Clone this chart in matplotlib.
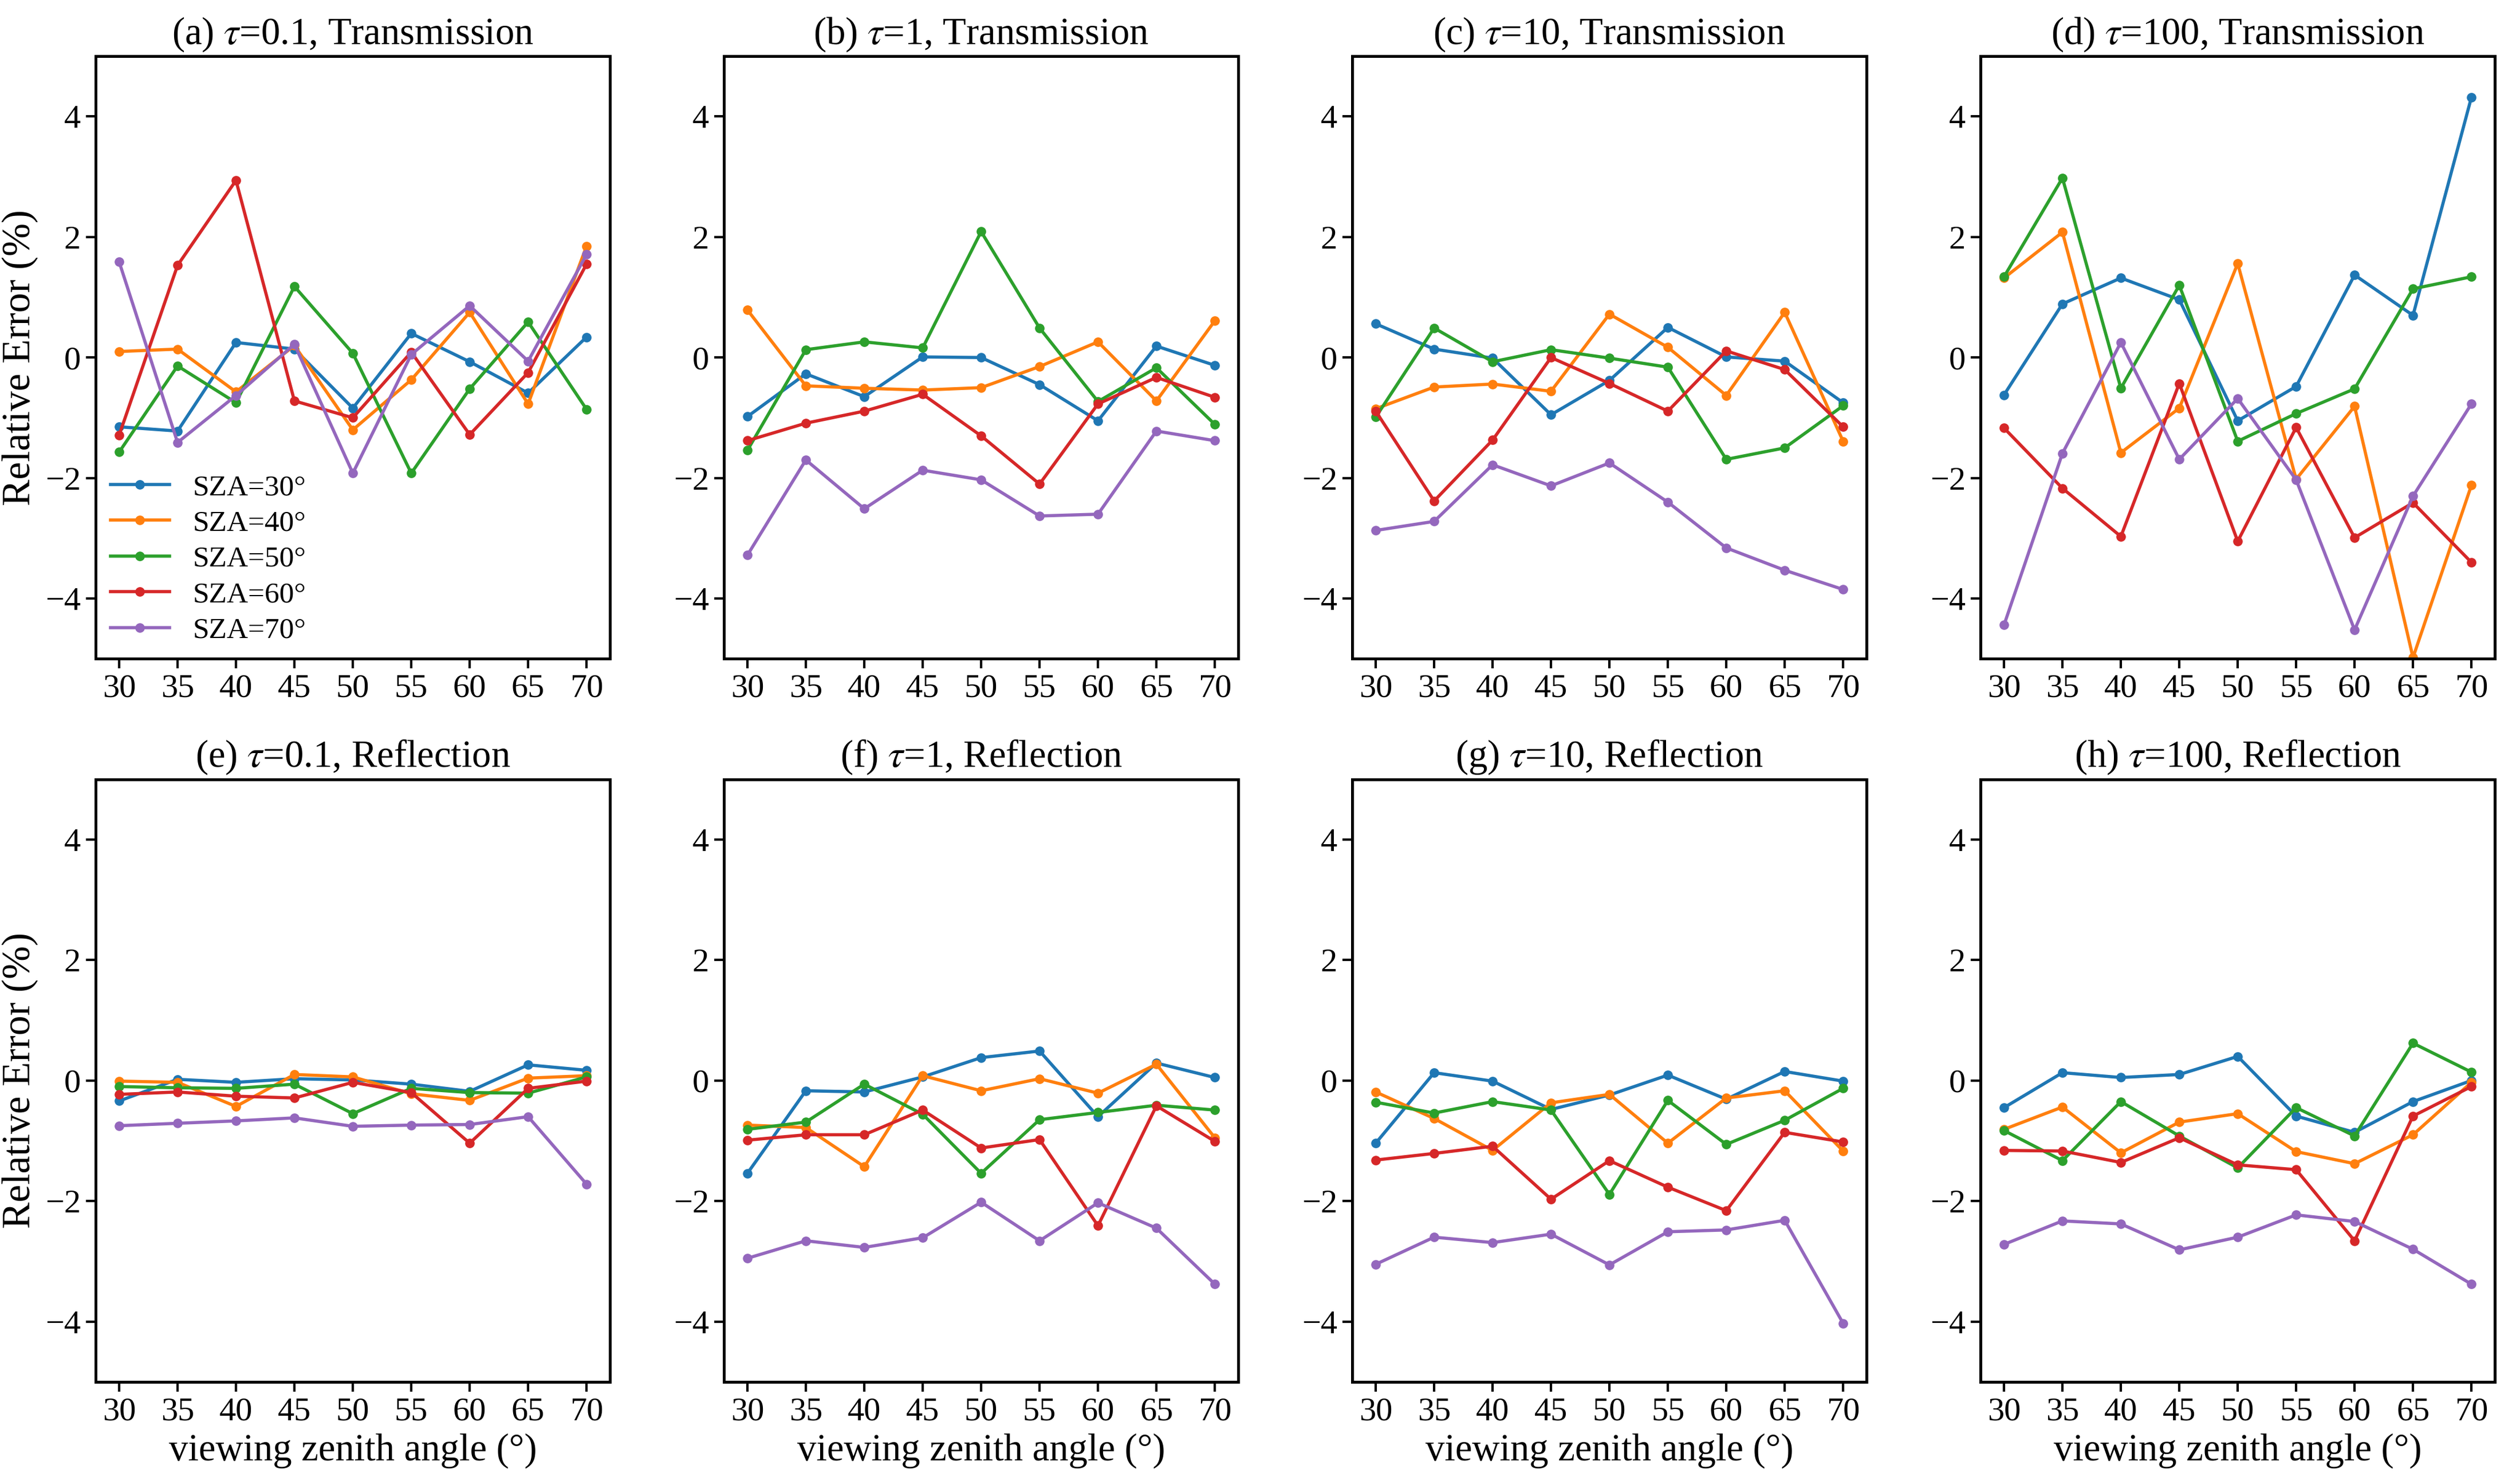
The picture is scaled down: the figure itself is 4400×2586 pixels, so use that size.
import matplotlib
matplotlib.use('Agg')
import matplotlib.pyplot as plt
import numpy as np

plt.rcParams['font.family'] = ['Liberation Serif', 'DejaVu Serif']
plt.rcParams['mathtext.fontset'] = 'stix'

vza = [30, 35, 40, 45, 50, 55, 60, 65, 70]
sza_labels = ['SZA=30°', 'SZA=40°', 'SZA=50°', 'SZA=60°', 'SZA=70°']
colors = ['#1f77b4', '#ff7f0e', '#2ca02c', '#d62728', '#9467bd']

titles = [
    r'(a) $\tau$=0.1, Transmission', r'(b) $\tau$=1, Transmission',
    r'(c) $\tau$=10, Transmission', r'(d) $\tau$=100, Transmission',
    r'(e) $\tau$=0.1, Reflection', r'(f) $\tau$=1, Reflection',
    r'(g) $\tau$=10, Reflection', r'(h) $\tau$=100, Reflection',
]

# rows: SZA 30, 40, 50, 60, 70
trans_01 = [
    [-1.15, -1.22, 0.25, 0.14, -0.84, 0.40, -0.07, -0.59, 0.34],
    [0.10, 0.14, -0.57, 0.20, -1.20, -0.37, 0.75, -0.77, 1.85],
    [-1.57, -0.14, -0.75, 1.18, 0.07, -1.92, -0.52, 0.59, -0.86],
    [-1.29, 1.53, 2.94, -0.72, -1.00, 0.09, -1.28, -0.25, 1.55],
    [1.59, -1.41, -0.63, 0.22, -1.92, 0.05, 0.86, -0.06, 1.71],
]
trans_1 = [
    [-0.98, -0.27, -0.65, 0.01, 0.00, -0.45, -1.05, 0.19, -0.13],
    [0.79, -0.47, -0.51, -0.54, -0.50, -0.15, 0.26, -0.72, 0.61],
    [-1.54, 0.13, 0.26, 0.16, 2.09, 0.49, -0.73, -0.17, -1.11],
    [-1.38, -1.09, -0.89, -0.61, -1.30, -2.10, -0.77, -0.33, -0.66],
    [-3.28, -1.70, -2.51, -1.87, -2.03, -2.63, -2.60, -1.22, -1.38],
]
trans_10 = [
    [0.56, 0.14, -0.01, -0.95, -0.38, 0.50, 0.01, -0.06, -0.75],
    [-0.85, -0.49, -0.44, -0.56, 0.72, 0.17, -0.63, 0.75, -1.39],
    [-0.99, 0.49, -0.07, 0.13, -0.01, -0.16, -1.69, -1.50, -0.80],
    [-0.89, -2.38, -1.37, 0.00, -0.43, -0.89, 0.11, -0.20, -1.15],
    [-2.87, -2.72, -1.78, -2.13, -1.75, -2.40, -3.16, -3.53, -3.85],
]
trans_100 = [
    [-0.62, 0.89, 1.32, 0.96, -1.05, -0.48, 1.37, 0.70, 4.32],
    [1.32, 2.08, -1.58, -0.84, 1.56, -2.02, -0.81, -4.98, -2.12],
    [1.34, 2.98, -0.51, 1.20, -1.39, -0.93, -0.52, 1.14, 1.34],
    [-1.17, -2.17, -2.97, -0.43, -3.05, -1.16, -2.99, -2.41, -3.40],
    [-4.44, -1.59, 0.25, -1.69, -0.68, -2.03, -4.52, -2.30, -0.77],
]
refl_01 = [
    [-0.34, 0.02, -0.03, 0.03, 0.01, -0.06, -0.18, 0.26, 0.17],
    [-0.01, -0.03, -0.43, 0.10, 0.06, -0.22, -0.33, 0.04, 0.08],
    [-0.10, -0.12, -0.13, -0.06, -0.55, -0.13, -0.20, -0.21, 0.06],
    [-0.23, -0.19, -0.26, -0.29, -0.03, -0.20, -1.04, -0.13, -0.01],
    [-0.75, -0.71, -0.67, -0.62, -0.76, -0.74, -0.73, -0.60, -1.72],
]
refl_1 = [
    [-1.54, -0.17, -0.19, 0.06, 0.38, 0.49, -0.60, 0.29, 0.05],
    [-0.74, -0.78, -1.43, 0.08, -0.17, 0.03, -0.21, 0.27, -0.95],
    [-0.81, -0.69, -0.06, -0.56, -1.54, -0.65, -0.53, -0.41, -0.49],
    [-0.99, -0.90, -0.90, -0.49, -1.12, -0.98, -2.41, -0.42, -1.01],
    [-2.95, -2.66, -2.77, -2.61, -2.02, -2.66, -2.03, -2.45, -3.38],
]
refl_10 = [
    [-1.04, 0.13, -0.01, -0.48, -0.24, 0.09, -0.31, 0.15, -0.01],
    [-0.19, -0.63, -1.16, -0.37, -0.23, -1.04, -0.29, -0.17, -1.17],
    [-0.36, -0.54, -0.35, -0.49, -1.89, -0.33, -1.06, -0.66, -0.13],
    [-1.32, -1.21, -1.09, -1.97, -1.33, -1.77, -2.16, -0.86, -1.02],
    [-3.05, -2.60, -2.69, -2.55, -3.06, -2.51, -2.48, -2.32, -4.03],
]
refl_100 = [
    [-0.45, 0.13, 0.05, 0.10, 0.40, -0.59, -0.86, -0.35, 0.00],
    [-0.81, -0.44, -1.20, -0.69, -0.55, -1.18, -1.38, -0.90, -0.03],
    [-0.83, -1.33, -0.35, -0.92, -1.45, -0.45, -0.92, 0.62, 0.14],
    [-1.16, -1.17, -1.36, -0.95, -1.40, -1.48, -2.66, -0.59, -0.10],
    [-2.72, -2.33, -2.38, -2.81, -2.60, -2.23, -2.34, -2.80, -3.38],
]

panels = [trans_01, trans_1, trans_10, trans_100,
          refl_01, refl_1, refl_10, refl_100]

fig, axx = plt.subplots(2, 4, figsize=(22, 12.93), dpi=200)
fig.subplots_adjust(left=0.038, right=0.99, top=0.962, bottom=0.067,
                    wspace=0.222, hspace=0.2)

for i, ax in enumerate(axx.flat):
    for j, series in enumerate(panels[i]):
        ax.plot(vza, series, color=colors[j], marker='o', markersize=5,
                linewidth=2, label=sza_labels[j])
    ax.set_ylim(-5, 5)
    ax.set_xlim(28.0, 72.0)
    ax.set_xticks(vza)
    ax.set_yticks([-4, -2, 0, 2, 4])
    ax.tick_params(labelsize=21, width=1.5, length=6)
    for sp in ax.spines.values():
        sp.set_linewidth(1.8)
    ax.set_title(titles[i], fontsize=24, pad=8)
    if i % 4 == 0:
        ax.set_ylabel('Relative Error (%)', fontsize=25)
    if i >= 4:
        ax.set_xlabel('viewing zenith angle (°)', fontsize=24)

axx[0, 0].legend(loc='lower left', frameon=False, fontsize=18.5,
                 handlelength=2.0, labelspacing=0.3, borderaxespad=0.2,
                 borderpad=0.3)

fig.savefig('out.png')
